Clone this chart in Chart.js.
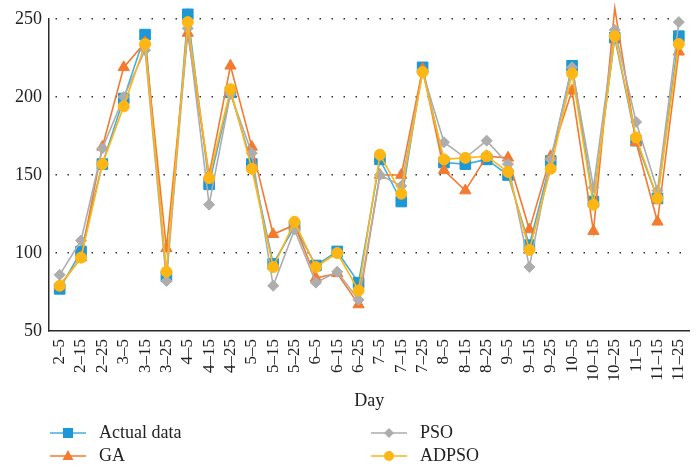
<!DOCTYPE html>
<html>
<head>
<meta charset="utf-8">
<script src="https://cdn.jsdelivr.net/npm/chart.js@4.4.0/dist/chart.umd.min.js"></script>
<style>
  html, body { margin: 0; padding: 0; background: #fff; }
  #wrap { width: 698px; height: 471px; }
</style>
</head>
<body>
<div id="wrap"><canvas id="chart" width="698" height="471"></canvas></div>
<script>
const days = ['2–5', '2–15', '2–25', '3–5', '3–15', '3–25', '4–5', '4–15', '4–25', '5–5',
              '5–15', '5–25', '6–5', '6–15', '6–25', '7–5', '7–15', '7–25', '8–5', '8–15',
              '8–25', '9–5', '9–15', '9–25', '10–5', '10–15', '10–25', '11–5', '11–15', '11–25'];

const actualData = [77, 101, 157, 199, 240, 85, 253, 144, 203, 157, 93, 117, 92, 101, 81,
                    160, 133, 219, 158, 157, 160, 150, 105, 159, 220, 133, 238, 172, 135, 239];
const gaData = [79, 97, 168, 219, 235, 103, 241, 150, 220, 168, 112, 118, 84, 87, 67,
                150, 150, 218, 153, 140, 162, 161, 115, 162, 204, 114, 257, 171, 120, 229];
const psoData = [86, 108, 167, 200, 230, 82, 244, 131, 202, 164, 79, 115, 81, 88, 70,
                 150, 143, 216, 171, 161, 172, 157, 91, 160, 219, 142, 243, 184, 140, 248];
const adpsoData = [79, 97, 157, 194, 234, 88, 248, 148, 205, 154, 91, 120, 91, 100, 76,
                   163, 138, 216, 160, 161, 162, 152, 102, 154, 215, 131, 239, 174, 135, 234];

const yTicks = [50, 100, 150, 200, 250];

const BLUE = '#1b98d5', BLUE_LINE = '#45ade2';
const ORANGE = '#f47a2f';
const GRAY = '#adadad';
const YELLOW = '#fdb614';
const FONT = '"Liberation Serif", "DejaVu Serif", serif';

function series(label, values, line, fill, style, radius, order) {
    return {
        label: label,
        data: values,
        borderColor: line,
        backgroundColor: fill,
        pointBackgroundColor: fill,
        pointBorderColor: fill,
        pointBorderWidth: 1,
        pointStyle: style,
        pointRadius: radius,
        borderWidth: 1.6,
        tension: 0,
        clip: false,
        order: order
    };
}

// legend + axis title drawn under the plot
const bottomText = {
    id: 'bottomText',
    afterDraw(chart) {
        const ctx = chart.ctx;
        const area = chart.chartArea;
        ctx.save();
        ctx.fillStyle = '#222';
        ctx.font = '18px ' + FONT;
        ctx.textAlign = 'center';
        ctx.textBaseline = 'middle';
        ctx.fillText('Day', (area.left + area.right) / 2, 401);

        const items = [
            { ds: 0, x: 50, y: 433 },
            { ds: 1, x: 50, y: 456 },
            { ds: 2, x: 371, y: 433 },
            { ds: 3, x: 371, y: 456 }
        ];
        for (const it of items) {
            const d = chart.data.datasets[it.ds];
            ctx.strokeStyle = d.borderColor;
            ctx.lineWidth = 1.6;
            ctx.beginPath();
            ctx.moveTo(it.x, it.y);
            ctx.lineTo(it.x + 36, it.y);
            ctx.stroke();
            ctx.fillStyle = d.pointBackgroundColor;
            const cx = it.x + 18, cy = it.y;
            ctx.beginPath();
            if (d.pointStyle === 'rect') {
                ctx.rect(cx - 5, cy - 5, 10, 10);
            } else if (d.pointStyle === 'triangle') {
                ctx.moveTo(cx, cy - 6);
                ctx.lineTo(cx + 5.5, cy + 4);
                ctx.lineTo(cx - 5.5, cy + 4);
                ctx.closePath();
            } else if (d.pointStyle === 'rectRot') {
                ctx.moveTo(cx, cy - 5);
                ctx.lineTo(cx + 5, cy);
                ctx.lineTo(cx, cy + 5);
                ctx.lineTo(cx - 5, cy);
                ctx.closePath();
            } else {
                ctx.arc(cx, cy, 5, 0, Math.PI * 2);
            }
            ctx.fill();
            ctx.fillStyle = '#222';
            ctx.textAlign = 'left';
            ctx.fillText(d.label, it.x + 49, it.y);
        }
        ctx.restore();
    }
};

const config = {
    type: 'line',
    data: {
        labels: days,
        datasets: [
            series('Actual data', actualData, BLUE_LINE, BLUE, 'rect', 7.5, 3),
            series('GA', gaData, ORANGE, ORANGE, 'triangle', 6.5, 2),
            series('PSO', psoData, GRAY, GRAY, 'rectRot', 5.5, 1),
            series('ADPSO', adpsoData, YELLOW, YELLOW, 'circle', 5.5, 0)
        ]
    },
    options: {
        responsive: false,
        animation: false,
        layout: { padding: { top: 19, right: 5, left: 0, bottom: 0 } },
        plugins: {
            legend: { display: false },
            tooltip: { enabled: false }
        },
        scales: {
            x: {
                offset: true,
                grid: { display: false, drawTicks: false },
                border: { display: true, color: '#2a2a2a', width: 1.5 },
                ticks: {
                    autoSkip: false,
                    minRotation: 90,
                    maxRotation: 90,
                    padding: 8,
                    color: '#222',
                    font: { family: FONT, size: 17 }
                },
                afterFit: s => {
                    s.height = 140;
                    s.paddingLeft = 0;
                    s.paddingRight = 0;
                }
            },
            y: {
                min: 50,
                max: 250,
                afterBuildTicks: s => { s.ticks = yTicks.map(v => ({ value: v })); },
                grid: {
                    drawTicks: false,
                    color: c => (c.tick && c.tick.value === 50) ? 'rgba(0,0,0,0)' : '#333',
                    lineWidth: 1.5
                },
                border: { display: true, color: '#2a2a2a', width: 1.5, dash: [1.5, 10.5], dashOffset: -6 },
                ticks: {
                    padding: 7,
                    color: '#222',
                    font: { family: FONT, size: 18 }
                },
                afterFit: s => {
                    s.width = 49;
                    s.paddingTop = 0;
                    s.paddingBottom = 0;
                }
            }
        }
    },
    plugins: [bottomText]
};

const chart = new Chart(document.getElementById('chart'), config);
</script>
</body>
</html>
